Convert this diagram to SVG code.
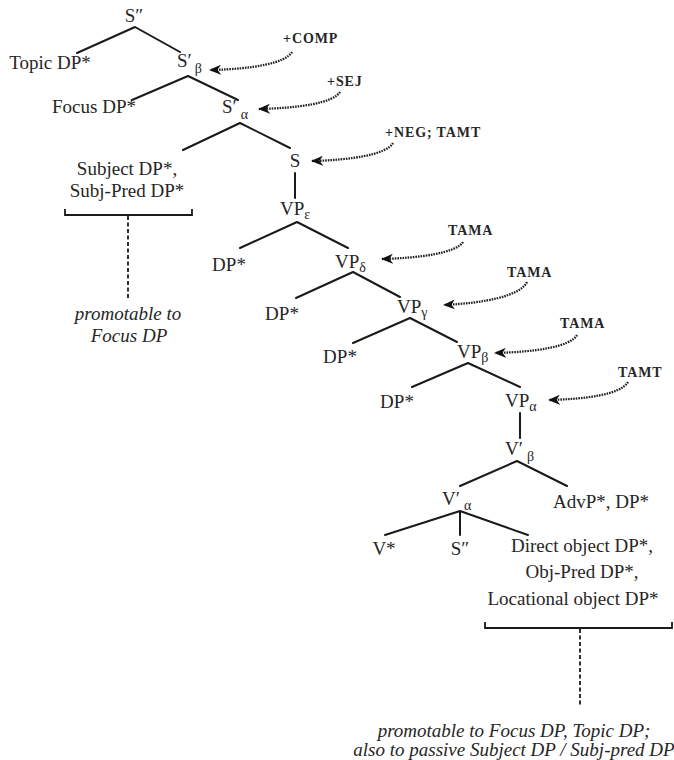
<svg xmlns="http://www.w3.org/2000/svg" width="674" height="760" viewBox="0 0 674 760" font-family="'Liberation Serif', 'DejaVu Serif', serif">
<defs>
<style>
text{font-family:'Liberation Serif','DejaVu Serif',serif;fill:#262626}
.t{font-size:19px;font-family:'Liberation Serif','DejaVu Serif',serif}
.m{text-anchor:middle}
.sub{font-size:14px}
.i{font-style:italic}
.sc{font-size:14px;font-weight:bold;letter-spacing:0.9px}
.e{stroke:#1a1a1a;stroke-width:2;fill:none;stroke-linecap:round}
.br{stroke:#1a1a1a;stroke-width:1.8;fill:none}
.dash{stroke:#1a1a1a;stroke-width:1.8;fill:none;stroke-dasharray:4 2.5}
.arr{stroke:#222;stroke-width:2.3;fill:none;stroke-dasharray:1.6 1;marker-end:url(#ah)}
</style>
<marker id="ah" viewBox="0 0 12 10" refX="11" refY="5" markerWidth="12" markerHeight="10" markerUnits="userSpaceOnUse" orient="auto">
<path d="M0,0 L12,5 L0,10 L3.5,5 Z" fill="#111"/>
</marker>
</defs>
<rect width="674" height="760" fill="#fff"/>

<g id="connectors">
<path class="e" d="M135,27 L77,53 M135,27 L180,52"/>
<path class="e" d="M188,76 L132,100 M188,76 L238,100"/>
<path class="e" d="M240,123 L183,150 M240,123 L290,148"/>
<path class="e" d="M295,173 L295,198"/>
<path class="e" d="M297,222 L240,248 M297,222 L348,248"/>
<path class="e" d="M353,272 L296,298 M353,272 L400,297"/>
<path class="e" d="M410,318 L353,343 M410,318 L457,342"/>
<path class="e" d="M468,363 L412,387 M468,363 L520,387"/>
<path class="e" d="M520,413 L520,438"/>
<path class="e" d="M517,461 L460,486 M517,461 L567,486"/>
<path class="e" d="M460,511 L385,535 M460,511 L460,535 M460,511 L528,535"/>
<path class="br" d="M65,209 V215 H192 V209"/>
<path class="dash" d="M128,216 V298"/>
<path class="br" d="M485,622 V628 H672 V622"/>
<path class="dash" d="M580,629 V707"/>
<path class="arr" d="M292,52 C285,63 255,69 210,70"/>
<path class="arr" d="M340,92 C333,103 300,108 259,109"/>
<path class="arr" d="M393,143 C386,155 350,160 312,161"/>
<path class="arr" d="M463,242 C456,253 420,258 382,259"/>
<path class="arr" d="M527,282 C520,296 485,303 444,305"/>
<path class="arr" d="M577,335 C570,347 535,352 495,353"/>
<path class="arr" d="M628,382 C620,395 585,399 549,400"/>
</g>

<g id="n-S2"><text class="t m" x="134" y="22">S″</text></g>
<g id="n-topic"><text class="t m" x="50" y="69">Topic DP*</text></g>
<g id="n-S1b"><text class="t" x="177" y="67">S′<tspan class="sub" dx="3" dy="6">β</tspan></text></g>
<g id="n-focus"><text class="t m" x="94" y="113">Focus DP*</text></g>
<g id="n-S1a"><text class="t" x="222" y="113">S′<tspan class="sub" dx="4" dy="6">α</tspan></text></g>
<g id="n-subject"><text class="t m" x="127" y="175">Subject DP*,</text><text class="t m" x="127" y="197">Subj-Pred DP*</text></g>
<g id="n-promo1"><text class="t m i" x="128" y="320">promotable to</text><text class="t m i" x="129" y="342">Focus DP</text></g>
<g id="n-S"><text class="t m" x="295" y="167">S</text></g>
<g id="n-VPe"><text class="t" x="280" y="215">VP<tspan class="sub" dy="4">ε</tspan></text></g>
<g id="n-DP1"><text class="t m" x="229" y="271">DP*</text></g>
<g id="n-VPd"><text class="t" x="335" y="268">VP<tspan class="sub" dy="4">δ</tspan></text></g>
<g id="n-DP2"><text class="t m" x="282" y="320">DP*</text></g>
<g id="n-VPg"><text class="t" x="397" y="313">VP<tspan class="sub" dy="4">γ</tspan></text></g>
<g id="n-DP3"><text class="t m" x="340" y="363">DP*</text></g>
<g id="n-VPb"><text class="t" x="457" y="358">VP<tspan class="sub" dy="4">β</tspan></text></g>
<g id="n-DP4"><text class="t m" x="397" y="408">DP*</text></g>
<g id="n-VPa"><text class="t" x="505" y="407">VP<tspan class="sub" dy="4">α</tspan></text></g>
<g id="n-V1b"><text class="t" x="505" y="455">V′<tspan class="sub" dx="4" dy="6">β</tspan></text></g>
<g id="n-V1a"><text class="t" x="442" y="505">V′<tspan class="sub" dx="4" dy="5">α</tspan></text></g>
<g id="n-advp"><text class="t m" x="601" y="508">AdvP*, DP*</text></g>
<g id="n-V"><text class="t m" x="384" y="555">V*</text></g>
<g id="n-S2b"><text class="t m" x="460" y="555">S″</text></g>
<g id="n-obj"><text class="t m" x="582" y="552">Direct object DP*,</text><text class="t m" x="582" y="578">Obj-Pred DP*,</text><text class="t m" x="573" y="605">Locational object DP*</text></g>
<g id="n-promo2"><text class="t m i" x="514" y="737">promotable to Focus DP, Topic DP;</text><text class="t m i" x="514" y="756">also to passive Subject DP / Subj-pred DP</text></g>

<g id="n-comp"><text class="sc" x="283" y="43">+COMP</text></g>
<g id="n-sej"><text class="sc" x="327" y="86">+SEJ</text></g>
<g id="n-neg"><text class="sc" x="385" y="137">+NEG; TAMT</text></g>
<g id="n-tama1"><text class="sc" x="448" y="235">TAMA</text></g>
<g id="n-tama2"><text class="sc" x="507" y="277">TAMA</text></g>
<g id="n-tama3"><text class="sc" x="560" y="328">TAMA</text></g>
<g id="n-tamt"><text class="sc" x="618" y="377">TAMT</text></g>
</svg>
